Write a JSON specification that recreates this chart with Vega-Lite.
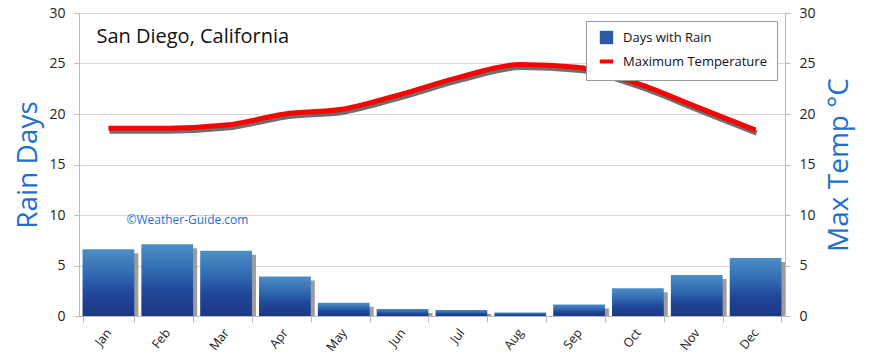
{
  "$schema": "https://vega.github.io/schema/vega-lite/v6.json",
  "width": 706,
  "height": 303,
  "autosize": "none",
  "padding": {"left": 79, "top": 13, "right": 85, "bottom": 48},
  "background": "white",
  "config": {
    "view": {"stroke": null},
    "font": "Open Sans",
    "axis": {"labelFont": "Open Sans", "titleFont": "Open Sans"}
  },
  "datasets": {
    "climate": [
      {"month": "Jan", "rain": 6.6, "temp": 18.6},
      {"month": "Feb", "rain": 7.1, "temp": 18.6},
      {"month": "Mar", "rain": 6.45, "temp": 18.9},
      {"month": "Apr", "rain": 3.9, "temp": 20.0},
      {"month": "May", "rain": 1.3, "temp": 20.5},
      {"month": "Jun", "rain": 0.7, "temp": 22.0},
      {"month": "Jul", "rain": 0.6, "temp": 23.7},
      {"month": "Aug", "rain": 0.35, "temp": 24.9},
      {"month": "Sep", "rain": 1.15, "temp": 24.6},
      {"month": "Oct", "rain": 2.75, "temp": 23.0},
      {"month": "Nov", "rain": 4.05, "temp": 20.7},
      {"month": "Dec", "rain": 5.75, "temp": 18.4}
    ],
    "labels": [
      {"month": "Jan", "v": 27.6, "label": "San Diego, California", "kind": "title"},
      {"month": "Jan", "v": 9.5, "label": "©Weather-Guide.com", "kind": "credit"}
    ]
  },
  "encoding": {
    "x": {
      "field": "month",
      "type": "ordinal",
      "sort": null,
      "scale": {"domain": ["Jan","Feb","Mar","Apr","May","Jun","Jul","Aug","Sep","Oct","Nov","Dec"], "paddingInner": 0.12, "paddingOuter": 0.06},
      "axis": {
        "title": null,
        "labelAngle": -52,
        "labelFontSize": 12.5,
        "labelColor": "#222",
        "labelPadding": 8,
        "tickBand": "extent",
        "tickSize": 6,
        "tickColor": "#bbb",
        "domainColor": "#bbb",
        "grid": false
      }
    }
  },
  "layer": [
    {
      "data": {"name": "climate"},
      "encoding": {
        "y": {
          "field": "rain",
          "type": "quantitative",
          "scale": {"domain": [0, 30]},
          "axis": {
            "title": "Rain Days",
            "titleFontSize": 28,
            "titleFontWeight": "normal",
            "titleColor": "#1c6fd0",
            "titlePadding": 6,
            "values": [0, 5, 10, 15, 20, 25, 30],
            "labelFontSize": 14,
            "labelColor": "#222",
            "labelPadding": 9,
            "tickSize": 5,
            "tickColor": "#bbb",
            "domainColor": "#bbb",
            "gridColor": "#d6d6d6",
            "grid": true
          }
        }
      },
      "layer": [
        {"mark": {"type": "bar", "color": "#8c8c8c", "opacity": 0.85, "xOffset": 4, "yOffset": 4, "clip": true}},
        {"mark": {"type": "bar", "color": {"gradient": "linear", "x1": 0, "y1": 1, "x2": 0, "y2": 0, "stops": [
          {"offset": 0, "color": "#1b3784"},
          {"offset": 0.35, "color": "#21489a"},
          {"offset": 0.6, "color": "#2f68b0"},
          {"offset": 1, "color": "#4d8ec6"}
        ]}}}
      ]
    },
    {
      "data": {"name": "climate"},
      "encoding": {
        "y": {
          "field": "temp",
          "type": "quantitative",
          "scale": {"domain": [0, 30]},
          "axis": {
            "orient": "right",
            "title": "Max Temp °C",
            "titleAngle": -90,
            "titleFontSize": 28,
            "titleFontWeight": "normal",
            "titleColor": "#1c6fd0",
            "titlePadding": 38,
            "values": [0, 5, 10, 15, 20, 25, 30],
            "labelFontSize": 14,
            "labelColor": "#222",
            "labelPadding": 9,
            "tickSize": 5,
            "tickColor": "#bbb",
            "domainColor": "#bbb",
            "grid": false
          }
        }
      },
      "layer": [
        {"mark": {"type": "line", "color": "#555555", "strokeWidth": 5, "interpolate": "monotone", "yOffset": 3, "xOffset": 1, "opacity": 0.85}},
        {
          "mark": {"type": "line", "strokeWidth": 5, "interpolate": "monotone"},
          "encoding": {
            "color": {
              "datum": "Maximum Temperature",
              "scale": {"domain": ["Days with Rain", "Maximum Temperature"], "range": ["#2c5ba6", "#ff0000"]},
              "legend": {
                "title": null,
                "orient": "top-right",
                "offset": 8,
                "fillColor": "white",
                "strokeColor": "#999",
                "padding": 10,
                "labelFontSize": 13,
                "labelColor": "#111",
                "rowPadding": 8,
                "symbolSize": 180,
                "symbolStrokeWidth": 4,
                "labelOffset": 10,
                "symbolOffset": 4,
                "encode": {
                  "symbols": {
                    "update": {
                      "shape": {"signal": "datum.value === 'Days with Rain' ? 'square' : 'stroke'"},
                      "fill": {"signal": "datum.value === 'Days with Rain' ? '#2c5ba6' : 'transparent'"},
                      "strokeWidth": {"signal": "datum.value === 'Days with Rain' ? 0 : 4"}
                    }
                  }
                }
              }
            }
          }
        }
      ]
    },
    {
      "data": {"name": "labels"},
      "transform": [{"filter": "datum.kind === 'title'"}],
      "mark": {"type": "text", "align": "left", "baseline": "middle", "dx": -12, "fontSize": 20, "color": "#111"},
      "encoding": {
        "y": {"field": "v", "type": "quantitative", "scale": {"domain": [0, 30]}, "axis": null},
        "text": {"field": "label"}
      }
    },
    {
      "data": {"name": "labels"},
      "transform": [{"filter": "datum.kind === 'credit'"}],
      "mark": {"type": "text", "align": "left", "baseline": "middle", "dx": 18, "fontSize": 12, "color": "#1c6fd0"},
      "encoding": {
        "y": {"field": "v", "type": "quantitative", "scale": {"domain": [0, 30]}, "axis": null},
        "text": {"field": "label"}
      }
    }
  ],
  "resolve": {"scale": {"y": "independent"}}
}
